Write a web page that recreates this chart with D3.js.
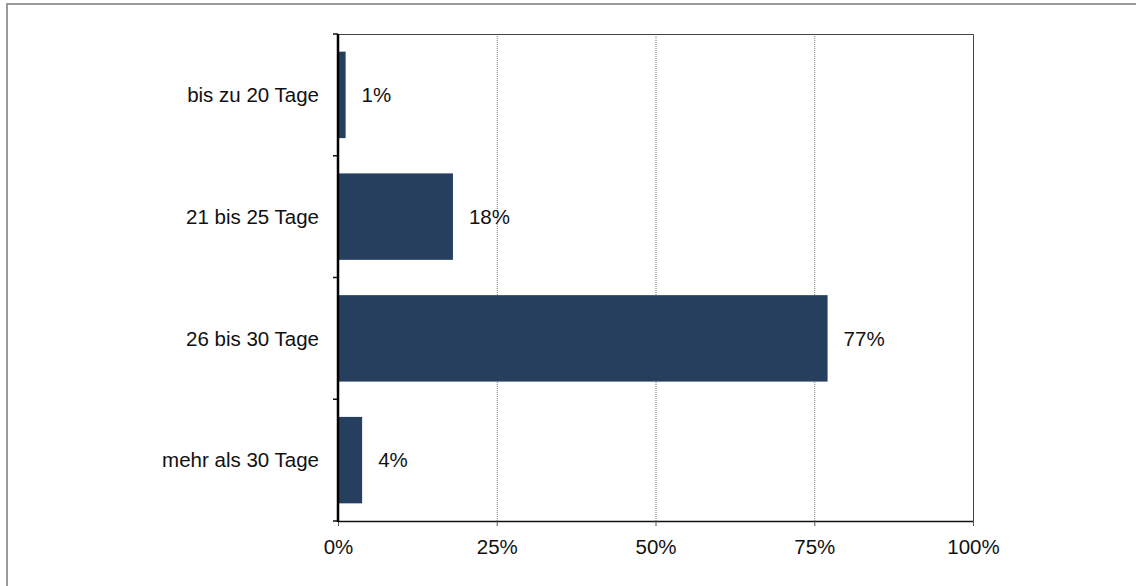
<!DOCTYPE html>
<html>
<head>
<meta charset="utf-8">
<script src="https://cdn.jsdelivr.net/npm/d3@7"></script>
<style>
  body { margin: 0; background: #fff; }
  text { font-family: "Liberation Sans", Arial, sans-serif; }
</style>
</head>
<body>
<script>
'use strict';

// chart data
const categories = ["bis zu 20 Tage", "21 bis 25 Tage", "26 bis 30 Tage", "mehr als 30 Tage"];
const values = [1.2, 18.1, 77.1, 3.8];
const valueLabels = ["1%", "18%", "77%", "4%"];
const xTicks = [0, 25, 50, 75, 100];

(function () {
  const width = 1136, height = 586;
  const left = 338, right = 973, top = 34, bottom = 521;
  const fontSize = "20.5px";

  const svg = d3.select("body")
    .append("svg")
    .attr("width", width)
    .attr("height", height);

  // outer frame (runs off the right/bottom edges)
  svg.append("rect")
    .attr("x", 7).attr("y", 4)
    .attr("width", 1300).attr("height", 800)
    .attr("fill", "none")
    .attr("stroke", "#9a9a9a")
    .attr("stroke-width", 2);

  const xScale = d3.scaleLinear().domain([0, 100]).range([left, right]);
  const yScale = d3.scaleBand().domain(categories).range([top, bottom])
    .paddingInner(0.29).paddingOuter(0.145);

  // gridlines
  svg.append("g").selectAll("line")
    .data(xTicks.filter((d) => d > 0 && d < 100))
    .enter().append("line")
    .attr("x1", (d) => xScale(d) + 0.5).attr("x2", (d) => xScale(d) + 0.5)
    .attr("y1", top).attr("y2", bottom)
    .attr("stroke", "#777")
    .attr("stroke-width", 1)
    .attr("stroke-dasharray", "1,1");

  // top and right border of plot area
  svg.append("path")
    .attr("d", `M${left},${top + 0.5}H${right + 0.5}V${bottom}`)
    .attr("fill", "none")
    .attr("stroke", "#444")
    .attr("stroke-width", 1);

  // bars
  svg.selectAll(".bar")
    .data(values)
    .enter().append("rect")
    .attr("class", "bar")
    .attr("x", xScale(0))
    .attr("y", (d, i) => yScale(categories[i]))
    .attr("width", (d) => xScale(d) - xScale(0))
    .attr("height", yScale.bandwidth())
    .attr("fill", "#263f5f");

  // value labels
  svg.selectAll(".val")
    .data(values)
    .enter().append("text")
    .attr("class", "val")
    .attr("x", (d) => xScale(d) + 16)
    .attr("y", (d, i) => yScale(categories[i]) + yScale.bandwidth() / 2)
    .attr("dy", "0.35em")
    .style("font-size", fontSize)
    .attr("fill", "#111")
    .text((d, i) => valueLabels[i]);

  // x axis
  const xAxis = d3.axisBottom(xScale)
    .tickValues(xTicks)
    .tickFormat((d) => d + "%")
    .tickSize(5)
    .tickPadding(13);
  const gx = svg.append("g")
    .attr("transform", `translate(0, ${bottom})`)
    .call(xAxis);
  gx.select(".domain").attr("stroke", "#111").attr("stroke-width", 1.5)
    .attr("d", `M${left},0.5H${right + 0.5}`);
  gx.selectAll(".tick line").attr("stroke", "#555");
  gx.selectAll(".tick text")
    .style("font-size", fontSize)
    .style("font-family", "'Liberation Sans', Arial, sans-serif")
    .attr("fill", "#111");

  // y axis: ticks at category boundaries
  const boundaries = d3.range(categories.length + 1).map((i) => top + i * (bottom - top) / categories.length);
  svg.append("g").selectAll("line")
    .data(boundaries)
    .enter().append("line")
    .attr("x1", left - 5).attr("x2", left)
    .attr("y1", (d) => d).attr("y2", (d) => d)
    .attr("stroke", "#111").attr("stroke-width", 1.5);
  svg.append("line")
    .attr("x1", left).attr("x2", left)
    .attr("y1", top).attr("y2", bottom + 1)
    .attr("stroke", "#000").attr("stroke-width", 2.5);

  // category labels
  svg.selectAll(".cat")
    .data(categories)
    .enter().append("text")
    .attr("class", "cat")
    .attr("x", 319)
    .attr("y", (d) => yScale(d) + yScale.bandwidth() / 2)
    .attr("dy", "0.35em")
    .attr("text-anchor", "end")
    .style("font-size", fontSize)
    .attr("fill", "#111")
    .text((d) => d);
})();
</script>
</body>
</html>
